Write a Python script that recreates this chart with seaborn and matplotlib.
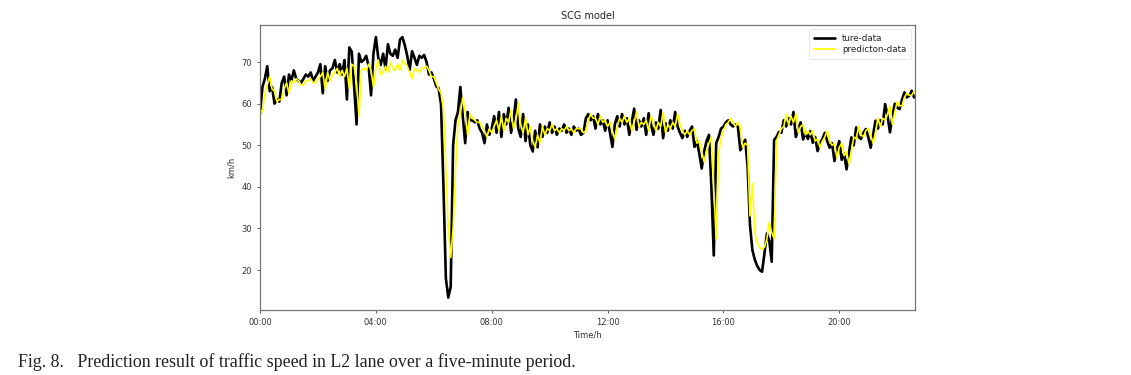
import numpy as np
import pandas as pd
import seaborn as sns
import matplotlib
matplotlib.use("Agg")
import matplotlib.pyplot as plt

# traffic speed (km/h), one value every 5 minutes, rows = hours
true_speed = [
    57.7, 64.0, 66.0, 69.0, 63.0, 64.0, 60.0, 61.0, 60.5, 65.0, 66.5, 62.0,
    67.0, 65.5, 68.0, 66.0, 65.5, 65.0, 66.0, 67.0, 66.5, 67.5, 65.5, 66.5,
    67.5, 69.5, 62.5, 69.0, 65.5, 68.0, 68.5, 70.5, 67.5, 69.5, 67.0, 70.5,
    61.0, 73.5, 72.5, 64.0, 55.0, 72.0, 70.0, 70.5, 71.5, 69.0, 62.0, 72.0,
    76.0, 71.0, 69.3, 72.0, 68.5, 74.3, 72.0, 71.5, 73.0, 71.0, 75.4, 76.0,
    74.0, 71.5, 68.1, 72.6, 71.0, 69.3, 71.5, 71.0, 71.7, 70.0, 67.0, 67.5,
    66.0, 64.2, 63.7, 59.8, 40.0, 18.0, 13.4, 16.0, 50.0, 56.0, 58.0, 64.0,
    57.0, 50.5, 58.0, 56.0, 56.0, 55.5, 56.0, 54.0, 53.0, 50.5, 55.0, 52.5,
    54.0, 57.0, 53.0, 58.0, 52.0, 57.5, 55.0, 59.0, 53.0, 56.0, 61.0, 54.0,
    52.0, 57.5, 51.0, 55.0, 50.0, 48.5, 53.5, 49.5, 55.0, 52.0, 54.5, 53.0,
    55.5, 53.0, 54.5, 52.5, 54.0, 53.5, 55.0, 53.0, 54.0, 52.5, 54.5, 53.5,
    54.0, 52.5, 53.0, 56.5, 57.5, 56.0, 57.0, 54.0, 57.5, 55.0, 56.0, 53.5,
    56.0, 53.0, 49.6, 55.0, 57.0, 54.5, 57.5, 55.0, 56.5, 52.5, 55.5, 58.8,
    53.7, 56.0, 54.5, 56.5, 52.5, 57.7, 55.0, 52.5, 55.5, 54.0, 58.5, 51.7,
    55.3, 53.5, 56.0, 54.0, 58.0, 54.5, 53.0, 51.7, 53.5, 52.0, 53.5, 54.5,
    49.6, 51.0, 48.0, 44.4, 48.5, 51.0, 52.5, 40.0, 23.5, 50.5, 52.0, 54.0,
    54.5, 55.5, 56.0, 55.0, 54.5, 55.0, 54.4, 48.8, 50.0, 51.3, 45.0, 30.8,
    24.8, 22.5, 21.0, 20.0, 19.6, 24.0, 28.8, 27.0, 22.0, 51.3, 52.0, 53.2,
    53.0, 56.0, 54.5, 56.5, 55.0, 58.0, 52.0, 54.0, 55.5, 51.4, 53.0, 51.5,
    53.4, 50.6, 52.0, 48.6, 50.5, 51.5, 53.0, 51.0, 49.4, 50.5, 46.2, 49.0,
    51.0, 46.5, 48.0, 44.2, 48.0, 51.9, 50.0, 54.3, 52.0, 51.5, 53.0, 53.9,
    52.0, 49.4, 52.5, 55.9, 54.0, 56.0, 55.0, 59.9, 57.0, 53.1, 57.0, 60.0,
    59.0, 58.7, 61.0, 62.7, 61.5, 61.9, 63.1, 61.5,
]

pred_speed = [
    58.5, 58.0, 62.5, 64.5, 66.5, 63.5, 63.0, 60.5, 61.0, 61.0, 63.5, 65.0,
    62.5, 65.5, 65.0, 66.0, 65.5, 64.5, 64.5, 65.5, 65.5, 66.0, 65.0, 65.0,
    66.0, 66.5, 67.5, 63.5, 67.5, 65.5, 67.0, 67.5, 68.5, 66.5, 68.0, 66.5,
    68.5, 63.5, 69.5, 69.0, 65.0, 57.0, 68.0, 68.5, 68.0, 69.5, 68.0, 64.0,
    68.5, 70.5, 67.0, 67.5, 69.0, 67.5, 70.0, 68.5, 68.0, 69.5, 68.0, 70.5,
    69.5, 69.0, 67.5, 66.0, 68.5, 68.0, 67.5, 68.5, 68.5, 69.0, 68.0, 66.5,
    66.5, 65.0, 63.5, 62.5, 58.5, 44.0, 30.0, 23.0, 30.0, 44.0, 55.0, 57.5,
    61.5, 58.0, 52.5, 57.5, 56.5, 56.0, 55.5, 55.5, 54.5, 53.5, 52.0, 54.0,
    53.0, 54.5, 56.0, 53.5, 57.0, 53.5, 56.5, 55.5, 58.5, 54.0, 56.0, 60.0,
    55.0, 53.0, 56.5, 52.5, 54.5, 51.0, 49.5, 52.5, 50.5, 54.5, 52.5, 54.0,
    53.5, 55.0, 53.5, 54.0, 53.0, 54.0, 53.5, 54.5, 53.5, 54.0, 53.0, 54.0,
    54.0, 54.0, 53.0, 53.5, 56.0, 57.5, 56.5, 56.5, 55.0, 57.0, 55.5, 56.0,
    54.5, 55.5, 53.5, 51.5, 54.5, 56.5, 55.5, 57.0, 55.5, 56.5, 53.5, 55.5,
    58.0, 54.5, 55.5, 55.0, 56.0, 53.5, 57.0, 55.5, 53.5, 55.5, 54.5, 58.0,
    53.0, 55.0, 54.0, 55.5, 54.5, 57.5, 55.0, 53.5, 52.5, 53.5, 52.5, 53.5,
    54.0, 50.5, 51.0, 48.5, 46.0, 48.5, 50.5, 52.0, 40.0, 27.5, 48.0, 51.5,
    53.5, 55.0, 55.5, 56.5, 55.5, 54.5, 55.5, 54.5, 49.5, 50.5, 50.0, 33.0,
    40.8, 29.2, 26.5, 25.5, 25.0, 25.5, 27.5, 31.6, 29.0, 27.6, 51.0, 52.5,
    54.0, 54.5, 57.5, 55.0, 57.0, 55.5, 57.5, 53.0, 54.5, 55.0, 52.5, 53.5,
    52.5, 53.5, 51.0, 51.5, 49.5, 51.0, 52.0, 53.5, 51.0, 50.0, 50.5, 47.0,
    49.5, 50.5, 47.5, 48.5, 45.5, 48.5, 52.0, 51.5, 54.5, 52.5, 52.0, 53.5,
    54.0, 52.5, 50.5, 53.0, 56.5, 54.5, 56.5, 56.0, 57.5, 59.5, 55.0, 58.0,
    60.5, 59.5, 59.5, 61.5, 62.5, 62.0, 62.0, 63.0,
]

tick_hours = [0, 4, 8, 12, 16, 20]
tick_labels = ["00:00", "04:00", "08:00", "12:00", "16:00", "20:00"]

hours = np.arange(len(true_speed)) * 5 / 60.0
df = pd.DataFrame({"hour": hours, "true": true_speed, "pred": pred_speed})

sns.set_style("ticks")
plt.rcParams["font.family"] = ["DejaVu Sans"]

fig = plt.figure(figsize=(11.31, 3.75), dpi=100)
ax = fig.add_axes([0.2299, 0.1733, 0.5791, 0.76])

sns.lineplot(data=df, x="hour", y="true", ax=ax, color="black", linewidth=1.9,
             label="ture-data")
sns.lineplot(data=df, x="hour", y="pred", ax=ax, color="#ffff00", linewidth=1.2,
             label="predicton-data")

ax.set_xlim(0, hours[-1] + 0.03)
ax.set_ylim(10.4, 78.9)
ax.set_xticks(tick_hours)
ax.set_xticklabels(tick_labels)
ax.set_yticks([20, 30, 40, 50, 60, 70])
ax.tick_params(labelsize=6, length=2.5, width=0.6, color="#444444", labelcolor="#333333")
for sp in ax.spines.values():
    sp.set_visible(True)
    sp.set_color("#777777")
    sp.set_linewidth(0.9)

ax.set_title("SCG model", fontsize=7, color="#222222", pad=4)
ax.set_xlabel("Time/h", fontsize=6, color="#333333", labelpad=2)
ax.set_ylabel("km/h", fontsize=6, color="#333333", labelpad=4)

leg = ax.legend(loc="upper right", fontsize=6.3, frameon=True, handlelength=2.4,
                borderpad=0.5, labelspacing=0.3)
leg.get_frame().set_edgecolor("#dddddd")
leg.get_frame().set_linewidth(0.6)

fig.text(0.016, 0.022, "Fig. 8.   Prediction result of traffic speed in L2 lane over a five-minute period.",
         fontsize=12.9, family=["Liberation Serif", "DejaVu Serif"], color="#222222")

fig.savefig("out.png", dpi=100)
